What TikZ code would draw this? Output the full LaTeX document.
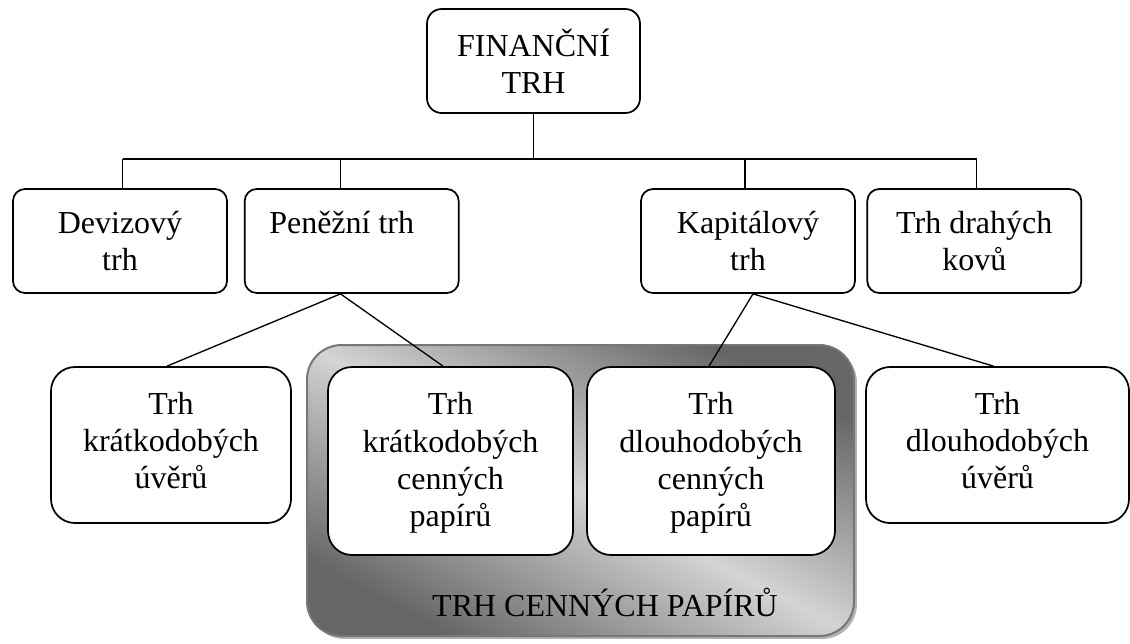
\documentclass[tikz,border=0pt]{standalone}
\usepackage{fontspec}
\setmainfont{Liberation Serif}
\usetikzlibrary{calc,shadows}
\definecolor{gdark}{HTML}{666666}
\definecolor{glight}{HTML}{D4D4D4}
\definecolor{gborder}{HTML}{777777}
\begin{document}
\begin{tikzpicture}[x=0.75pt,y=-0.75pt,
  every node/.style={font=\fontsize{24}{28}\selectfont, align=center, inner sep=0pt},
  topbox/.style={draw, line width=1.3pt, rounded corners=9pt, minimum width=160.5pt, minimum height=78pt, fill=white},
  lowbox/.style={draw, line width=1.3pt, rounded corners=18pt, fill=white},
  secbox/.style={draw=gborder, line width=1.5pt, rounded corners=26pt,
    top color=gdark, bottom color=gdark, middle color=glight, shading angle=-28,
    drop shadow={shadow xshift=2.2pt, shadow yshift=-2.2pt, fill=black, opacity=0.3}},
  conn/.style={line width=1pt}]
\useasboundingbox (0,0) rectangle (1130,643);

% security market group
\node[secbox, minimum width=410.25pt, minimum height=218.25pt] (sec) at (580.5,490.5) {};
\node (sectitle) at (605,602) {TRH CENNÝCH PAPÍRŮ};

% top
\node[draw, line width=1.3pt, rounded corners=11pt, minimum width=159.75pt, minimum height=78pt, fill=white] (fin) at (533.5,61) {FINANČNÍ\\TRH};

% second level
\node[topbox] (dev) at (120,241) {Devizový\\trh};
\node[topbox] (pen) at (351.7,241) {Peněžní trh\hspace*{15pt}\\\mbox{}};
\node[topbox] (kap) at (748,241) {Kapitálový\\trh};
\node[topbox] (drah) at (974.3,241) {Trh drahých\\kovů};

% third level
\node[lowbox, minimum width=180pt, minimum height=117pt] (kuv) at (171,445) {Trh\\krátkodobých\\úvěrů\rule[-7pt]{0pt}{0pt}};
\node[lowbox, minimum width=183.75pt, minimum height=141pt] (kcp) at (450.5,461) {\rule{0pt}{20pt}Trh\\krátkodobých\\cenných\\papírů};
\node[lowbox, minimum width=186pt, minimum height=141pt] (dcp) at (711,461) {\rule{0pt}{20pt}Trh\\dlouhodobých\\cenných\\papírů};
\node[lowbox, minimum width=197.25pt, minimum height=117pt] (duv) at (997.5,445) {Trh\\dlouhodobých\\úvěrů\rule[-7pt]{0pt}{0pt}};

% bus
\coordinate (bl) at (122.7,159);
\coordinate (br) at (976.7,159);
\coordinate (fb) at (fin.south);
\coordinate (db) at ($(dev.north)+(2.7,0)$);
\coordinate (pt) at ($(pen.north)+(-11.2,0)$);
\coordinate (kt) at ($(kap.north)+(-3,0)$);
\coordinate (dt) at ($(drah.north)+(2.4,0)$);
\draw[conn] (bl) -- (br);
\draw[conn] (fb) -- (fb |- bl);
\draw[conn] (db) -- (db |- bl);
\draw[conn] (pt) -- (pt |- bl);
\draw[conn] (kt) -- (kt |- bl);
\draw[conn] (dt) -- (dt |- bl);

% diagonals
\coordinate (pb) at ($(pen.south)+(-11.2,0)$);
\coordinate (kb) at ($(kap.south)+(5,0)$);
\draw[conn] (pb) -- ($(kuv.north)+(-4,0)$);
\draw[conn] (pb) -- ($(kcp.north)+(-7.5,0)$);
\draw[conn] (kb) -- ($(dcp.north)+(-2,0)$);
\draw[conn] (kb) -- ($(duv.north)+(-4,0)$);
\end{tikzpicture}
\end{document}
